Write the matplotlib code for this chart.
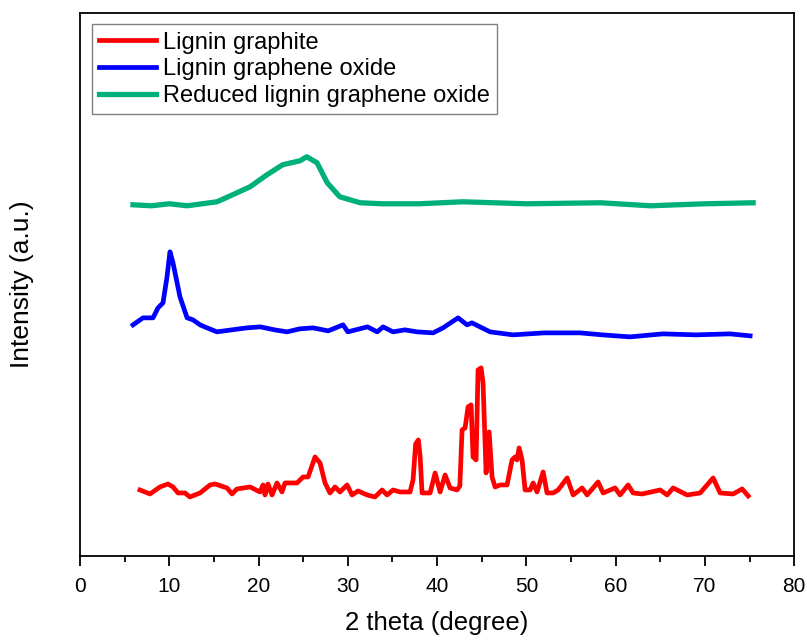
import matplotlib.pyplot as plt
from matplotlib.ticker import MultipleLocator

plt.rcParams['font.family'] = ['Liberation Sans', 'DejaVu Sans']

# Lignin graphite (red)
graphite_x = [6.72, 7.84, 8.96, 9.86, 10.42, 10.98, 11.76, 12.32, 13.45, 14.57,
              15.13, 16.47, 17.03, 17.59, 19.05, 20.17, 20.50, 20.73, 21.06, 21.51,
              22.07, 22.63, 22.97, 24.31, 24.99, 25.55, 26.33, 26.89, 27.45, 28.01,
              28.57, 29.13, 29.92, 30.48, 31.15, 32.16, 33.05, 33.84, 34.40, 35.07,
              35.85, 36.97, 37.31, 37.60, 37.90, 38.10, 38.32, 39.22, 39.78, 40.34,
              40.90, 41.46, 42.24, 42.55, 42.80, 43.14, 43.47, 43.81, 44.03, 44.37,
              44.59, 44.93, 45.15, 45.49, 45.83, 46.16, 46.50, 47.06, 47.84, 48.40,
              48.74, 48.96, 49.19, 49.52, 49.86, 50.42, 50.76, 51.20, 51.88, 52.32,
              53.00, 53.56, 54.57, 55.24, 56.25, 56.81, 58.04, 58.60, 59.94, 60.50,
              61.40, 61.96, 62.97, 64.99, 65.77, 66.44, 68.01, 69.47, 70.92, 71.71,
              73.17, 74.17, 74.85]
graphite_y = [66, 62, 69, 72, 69, 63, 63, 59, 63, 71,
              72, 68, 62, 67, 69, 64, 71, 61, 72, 61,
              73, 64, 73, 73, 79, 79, 99, 93, 73, 63,
              69, 64, 71, 61, 65, 61, 59, 66, 61, 66,
              64, 64, 76, 112, 116, 100, 63, 63, 83, 64,
              81, 68, 66, 70, 126, 128, 149, 151, 99, 96,
              186, 188, 173, 83, 124, 79, 69, 71, 71, 96,
              99, 96, 108, 96, 66, 66, 73, 64, 84, 63,
              63, 66, 78, 61, 68, 61, 74, 63, 68, 61,
              71, 63, 62, 66, 61, 68, 61, 63, 78, 63,
              62, 67, 60]

# Lignin graphene oxide (blue)
go_x = [5.94, 7.06, 8.18, 8.74, 9.30, 9.75, 10.08, 10.42, 11.20, 12.00,
        12.66, 13.45, 14.23, 15.35, 17.0, 18.70, 20.20, 21.8, 23.20, 24.6,
        26.10, 27.8, 29.47, 30.00, 32.20, 33.30, 33.95, 35.07, 36.4, 37.76,
        39.55, 40.67, 42.35, 43.36, 43.90, 45.94, 48.50, 52.0, 56.00, 58.5,
        61.60, 65.30, 69.0, 72.80, 75.07]
go_y = [231, 238, 238, 248, 253, 279, 304, 293, 259, 238,
        236, 231, 228, 224, 226, 228, 229, 226, 224, 227,
        228, 225, 231, 224, 229, 224, 229, 224, 226, 224,
        223, 228, 238, 231, 233, 224, 221, 223, 223, 221,
        219, 222, 221, 222, 220]

# Reduced lignin graphene oxide (green)
rgo_x = [5.94, 8.0, 10.0, 12.0, 15.35, 17.10, 19.05, 20.95, 22.70, 24.65,
         25.40, 26.55, 27.70, 29.10, 31.40, 33.90, 38.0, 42.90, 50.0, 58.30,
         63.90, 70.0, 75.40]
rgo_y = [351, 350, 352, 350, 354, 361, 369, 381, 391, 395,
         399, 393, 373, 359, 353, 352, 352, 354, 352, 353,
         350, 352, 353]

fig = plt.figure(figsize=(8.07, 6.43), dpi=100)
ax = fig.add_axes([0.0991, 0.1353, 0.885, 0.845])

ax.plot(graphite_x, graphite_y, color='#ff0000', lw=3.4, label='Lignin graphite')
ax.plot(go_x, go_y, color='#0000ff', lw=3.4, label='Lignin graphene oxide')
ax.plot(rgo_x, rgo_y, color='#00b07a', lw=3.8, label='Reduced lignin graphene oxide')

ax.set_xlim(0, 80)
ax.set_ylim(0, 543)
ax.xaxis.set_major_locator(MultipleLocator(10))
ax.xaxis.set_minor_locator(MultipleLocator(5))
ax.tick_params(axis='x', which='major', direction='out', length=7, width=1.3,
               labelsize=15, pad=8, top=False)
ax.tick_params(axis='x', which='minor', direction='out', length=4, width=1.3, top=False)
ax.set_yticks([])
for s in ax.spines.values():
    s.set_linewidth(1.3)

ax.set_xlabel('2 theta (degree)', fontsize=18.5, labelpad=11)
ax.set_ylabel('Intensity (a.u.)', fontsize=19, labelpad=33)

leg = ax.legend(loc='upper left', fontsize=17, handlelength=2.4, handletextpad=0.3,
                labelspacing=0.2, borderpad=0.3, borderaxespad=0.5,
                fancybox=False, framealpha=1)
leg.get_frame().set_edgecolor('#808080')
leg.get_frame().set_linewidth(1.0)

fig.savefig('out.png', dpi=100)
